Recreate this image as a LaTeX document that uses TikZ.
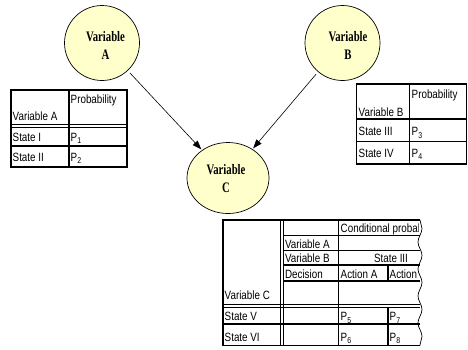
\documentclass[tikz,border=0pt]{standalone}
\usepackage{fontspec}
\usetikzlibrary{arrows.meta,shapes.geometric,decorations.pathmorphing}
\newfontfamily\tabfont[FakeStretch=0.82]{Liberation Sans}
\newfontfamily\varfont[FakeStretch=0.74]{Liberation Serif}
\definecolor{nodefill}{RGB}{255,255,204}
% index of a probability, set lower and a little larger than \textsubscript
\newcommand\probidx[1]{\raisebox{-2.6pt}{\fontsize{8.5}{9}\selectfont #1}}
\begin{document}
\begin{tikzpicture}[x=1pt,y=-1pt,
  tabouter/.style={line width=1.8pt},
  tabinner/.style={line width=1.1pt},
  cell/.style={font=\tabfont\fontsize{12}{14}\selectfont,inner sep=0pt,anchor=base west},
  varnode/.style={circle,draw,line width=0.7pt,fill=nodefill,inner sep=0pt,minimum size=75pt},
  vartext/.style={font=\varfont\bfseries\fontsize{14.5}{18.5}\selectfont,align=center,inner sep=0pt},
  link/.style={-{Triangle[length=9pt,width=6.5pt]},line width=0.6pt,shorten <=3pt,shorten >=1pt}]
\useasboundingbox (0,0) rectangle (468,349);

% ---- variable nodes ----
\node[varnode] (A) at (102,43) {};
\node[varnode] (B) at (342.5,43) {};
\node[varnode,ellipse,minimum width=82pt,minimum height=71pt] (C) at (228,178) {};
\node[vartext] (At) at (105.5,45.5) {Variable\\A};
\node[vartext] (Bt) at (348,45.5) {Variable\\B};
\node[vartext] (Ct) at (226,178.5) {Variable\\C};
\draw[link] (A) -- (C);
\draw[link] (B) -- (C);

% ---- table for variable A ----
\draw[tabinner] (69,90) -- (69,167);
\draw[tabinner] (10.7,124.5) -- (127.3,124.5);
\draw[tabinner] (10.7,127.8) -- (127.3,127.8);
\draw[tabinner] (10.7,146) -- (127.3,146);
\draw[tabouter] (10.7,90) rectangle (127.3,167);
\node[cell] (a1) at (70.5,103) {Probability};
\node[cell] (a2) at (12.5,120.5) {Variable A};
\node[cell] (a3) at (12.5,141) {State I};
\node[cell] (a4) at (70.5,141) {P\probidx{1}};
\node[cell] (a5) at (12.5,161) {State II};
\node[cell] (a6) at (70.5,161) {P\probidx{2}};

% ---- table for variable B ----
\draw[tabinner] (409.5,83.7) -- (409.5,164);
\draw[line width=1.5pt] (356.5,119) -- (466.5,119);
\draw[tabinner] (356.5,141.5) -- (466.5,141.5);
\draw[tabouter] (356.5,83.7) rectangle (466.5,164);
\node[cell] (b1) at (411.5,98) {Probability};
\node[cell] (b2) at (358.5,116) {Variable B};
\node[cell] (b3) at (358.5,135.5) {State III};
\node[cell] (b4) at (411.5,135.5) {P\probidx{3}};
\node[cell] (b5) at (358.5,157) {State IV};
\node[cell] (b6) at (411.5,157) {P\probidx{4}};

% ---- conditional table for variable C ----
\draw[tabinner] (280.5,220) -- (280.5,345.5);
\draw[tabinner] (283.8,220) -- (283.8,345.5);
\draw[tabinner] (338.5,220) -- (338.5,345.5);
\foreach \yy in {235.5,250.5,265,281}
  \draw[tabinner] (283.8,\yy) -- (420,\yy);
\draw[tabinner] (388,265) -- (388,281);
\draw[tabinner] (388,307.8) -- (388,345.5);
\draw[tabinner] (223,304.5) -- (420,304.5);
\draw[tabinner] (223,307.8) -- (420,307.8);
\draw[tabinner] (223,324) -- (420,324);
\draw[tabouter] (420,220) -- (223,220) -- (223,345.5) -- (420,345.5);
\draw[line width=0.7pt,decorate,decoration={snake,segment length=27pt,amplitude=2pt}]
  (420,220) -- (420,345.5);
\begin{scope}
  \clip (338.5,220) rectangle (418,235.5);
  \node[cell] (c0) at (340.5,232.5) {Conditional probability};
\end{scope}
\node[cell] (c1) at (284.8,248) {Variable A};
\node[cell] (c2) at (284.8,262.5) {Variable B};
\node[cell,anchor=base] (c3) at (391,262.5) {State III};
\node[cell] (c4) at (284.8,278.5) {Decision};
\node[cell] (c5) at (340.5,278.5) {Action A};
\node[cell] (c6) at (389.5,278.5) {Action};
\node[cell] (c7) at (224.5,299) {Variable C};
\node[cell] (c8) at (224.5,320.5) {State V};
\node[cell] (c9) at (340.5,320.5) {P\probidx{5}};
\node[cell] (c10) at (389.5,320.5) {P\probidx{7}};
\node[cell] (c11) at (224.5,341) {State VI};
\node[cell] (c12) at (340.5,341) {P\probidx{6}};
\node[cell] (c13) at (389.5,341) {P\probidx{8}};
\end{tikzpicture}
\end{document}
